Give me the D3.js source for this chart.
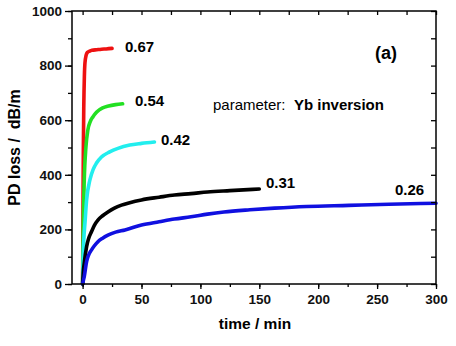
<!DOCTYPE html>
<html><head><meta charset="utf-8">
<script src="https://cdn.jsdelivr.net/npm/d3@7"></script>
<style>
body{margin:0;background:#fff;}
text{font-family:"Liberation Sans",Arial,sans-serif;}
</style></head>
<body><svg id="c" width="456" height="346"></svg>
<script>
// ---- data ----
const seriesNames = ["0.67","0.54","0.42","0.31","0.26"];
const seriesColors = ["#ee1111","#22e022","#22eeee","#000000","#1010e0"];
const tRed   = [0,0.3,0.6,1,1.5,2,3,4,6,8,12,16,20,25];
const vRed   = [0,250,480,650,760,810,838,848,853,856,858,860,861,863];
const tGreen = [0,0.5,1.4,2.8,4.5,6.5,8.7,12,17,22,28,34];
const vGreen = [0,200,380,500,565,595,612,630,645,652,657,660];
const tCyan  = [0,0.5,1,2,3.4,6.2,9,11.8,16,23,30,40,50,61];
const vCyan  = [0,100,160,223,308,381,420,443,465,484,497,509,515,520];
const tBlack = [0,0.5,1.4,3.4,5,7.6,10,13,17,21.5,27,33,40,50,65,78,92,106,125,150];
const vBlack = [0,40,77,137,165,192,215,234,250,264,278,289,298,308,318,326,331,337,342,348];
const tBlue  = [0,0.5,1.4,3.4,5,7.6,10,13,17,21.5,28,36,50,65,78,92,106,120,142,163,190,226,260,300];
const vBlue  = [0,10,27,82,105,125,140,155,168,179,190,198,216,228,238,246,256,264,272,278,284,288,292,296];
const xTicks = [0,50,100,150,200,250,300];
const yTicks = [0,200,400,600,800,1000];

const series = [[tRed,vRed],[tGreen,vGreen],[tCyan,vCyan],[tBlack,vBlack],[tBlue,vBlue]];

const svg = d3.select("#c");
const L=72,R=436,T=11,B=284;
const x = d3.scaleLinear().domain([-9,300]).range([L,R]);
const y = d3.scaleLinear().domain([0,1000]).range([B,T]);

const line = d3.line().x(d=>x(d[0])).y(d=>y(d[1])).curve(d3.curveMonotoneX);
series.forEach((s,i)=>{
  const pts = s[0].map((t,j)=>[t,s[1][j]]);
  svg.append("path").attr("d",line(pts)).attr("fill","none")
    .attr("stroke",seriesColors[i]).attr("stroke-width",3.6)
    .attr("stroke-linecap","round").attr("stroke-linejoin","round");
});

// axes
const minorX = d3.range(0,301,25);
const minorY = d3.range(0,1001,100);
const gB = svg.append("g").attr("transform",`translate(0,${B})`)
  .call(d3.axisBottom(x).tickValues(minorX).tickSize(3).tickFormat(""));
const gB2 = svg.append("g").attr("transform",`translate(0,${B})`)
  .call(d3.axisBottom(x).tickValues(xTicks).tickSize(5).tickPadding(5).tickFormat(d3.format("d")));
const gL = svg.append("g").attr("transform",`translate(${L},0)`)
  .call(d3.axisLeft(y).tickValues(minorY).tickSize(4).tickFormat(""));
const gL2 = svg.append("g").attr("transform",`translate(${L},0)`)
  .call(d3.axisLeft(y).tickValues(yTicks).tickSize(7).tickPadding(3).tickFormat(d3.format("d")));
const gT = svg.append("g").attr("transform",`translate(0,${T})`)
  .call(d3.axisBottom(x).tickValues(minorX).tickSize(4).tickFormat(""));
const gR = svg.append("g").attr("transform",`translate(${R},0)`)
  .call(d3.axisLeft(y).tickValues(minorY).tickSize(5).tickFormat(""));
[gB,gB2,gL,gL2,gT,gR].forEach(g=>{
  g.select(".domain").remove();
  g.selectAll("line").attr("stroke","#000").attr("stroke-width",1.3);
  g.selectAll("text").attr("font-size",13.5).attr("font-weight","bold")
    .attr("font-family","Liberation Sans, Arial, sans-serif").attr("fill","#111");
});
svg.append("rect").attr("x",L).attr("y",T).attr("width",R-L).attr("height",B-T)
  .attr("fill","none").attr("stroke","#000").attr("stroke-width",1.5);

// axis titles
svg.append("text").attr("x",(L+R)/2+1).attr("y",329).attr("text-anchor","middle")
  .attr("font-size",15.5).attr("font-weight","bold").text("time / min");
svg.append("text").attr("transform",`translate(20,${(T+B)/2}) rotate(-90)`)
  .attr("text-anchor","middle").attr("font-size",16).attr("font-weight","bold")
  .style("white-space","pre").text("PD loss /  dB/m");

// series labels
const labelPos = [[125,52],[135,106],[161,145],[266,188],[395,195]];
seriesNames.forEach((n,i)=>{
  svg.append("text").attr("x",labelPos[i][0]).attr("y",labelPos[i][1])
    .attr("font-size",15).attr("font-weight","bold").text(n);
});
svg.append("text").attr("x",375).attr("y",59).attr("font-size",18)
  .attr("font-weight","bold").text("(a)");
const p = svg.append("text").attr("x",213).attr("y",110).attr("font-size",15).style("white-space","pre");
p.append("tspan").text("parameter:  ");
p.append("tspan").attr("font-weight","bold").text("Yb inversion");
</script></body></html>
